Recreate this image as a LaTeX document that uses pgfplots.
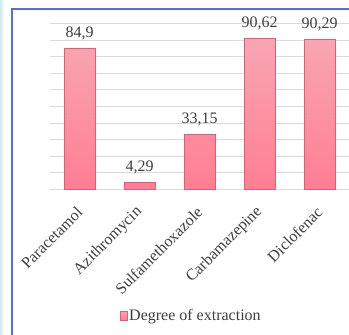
\documentclass[border=0pt]{standalone}
\usepackage{pgfplots}
\pgfplotsset{compat=1.18}
\usepackage{fontspec}
\setmainfont{Liberation Serif}

\definecolor{frameblue}{RGB}{82,112,226}
\definecolor{barTop}{RGB}{248,166,178}
\definecolor{barBot}{RGB}{255,126,146}
\definecolor{barEdge}{RGB}{232,90,116}
\definecolor{gridgray}{RGB}{218,218,218}
\definecolor{labelgray}{RGB}{62,62,62}
\definecolor{stripblue}{RGB}{205,232,238}

\pgfplotstableread{
x  y
0  84.9
1  4.29
2  33.15
3  90.62
4  90.29
}\extraction

\begin{document}
\begin{tikzpicture}[x=1bp,y=1bp]
\path[use as bounding box] (0,0) rectangle (349,335);
\clip (0,0) rectangle (349,335);
% page background strip and chart frame
\fill[left color=stripblue, right color=white] (0,0) rectangle (4,335);
\draw[frameblue, line width=1.3bp] (12,-20) -- (12,326) -- (380,326);
\begin{axis}[
  at={(49.7bp,145.5bp)}, anchor=south west,
  scale only axis, width=300bp, height=166.2bp,
  xmin=-0.5, xmax=4.5, ymin=0, ymax=100,
  axis line style={draw=none},
  major tick length=0pt,
  ytick={0,10,...,100}, yticklabels={},
  ymajorgrids, grid style={gridgray, line width=0.8bp},
  xtick=data,
  xticklabels={Paracetamol,Azithromycin,Sulfamethoxazole,Carbamazepine,Diclofenac},
  xticklabel style={rotate=45, anchor=east, inner sep=0pt, text=labelgray,
    font=\fontsize{16bp}{19bp}\selectfont},
  xticklabel shift=20bp,
  ybar, bar width=30.7bp,
  nodes near coords,
  point meta=y,
  every node near coord/.append style={anchor=south, inner sep=0pt, text depth=0pt,
    yshift=10.5bp, text=labelgray, font=\fontsize{16bp}{19bp}\selectfont,
    /pgf/number format/.cd, fixed, precision=2, use comma, assume math mode=true},
  legend style={at={(0.471,-0.761)}, anchor=center, draw=none, fill=none,
    inner sep=0pt, font=\fontsize{16bp}{19bp}\selectfont, text=labelgray,
    nodes={inner sep=1.5bp}},
  legend image code/.code={
    \fill[top color=barTop, bottom color=barBot] (0bp,-4bp) rectangle (7bp,4.5bp);
    \draw[barEdge, line width=0.6bp] (0bp,-4bp) rectangle (7bp,4.5bp);
  },
]
\addplot[ybar, draw=barEdge, line width=0.9bp, top color=barTop, bottom color=barBot]
  table[x=x, y=y] {\extraction};
\addlegendentry{Degree of extraction}
\end{axis}
\end{tikzpicture}
\end{document}
